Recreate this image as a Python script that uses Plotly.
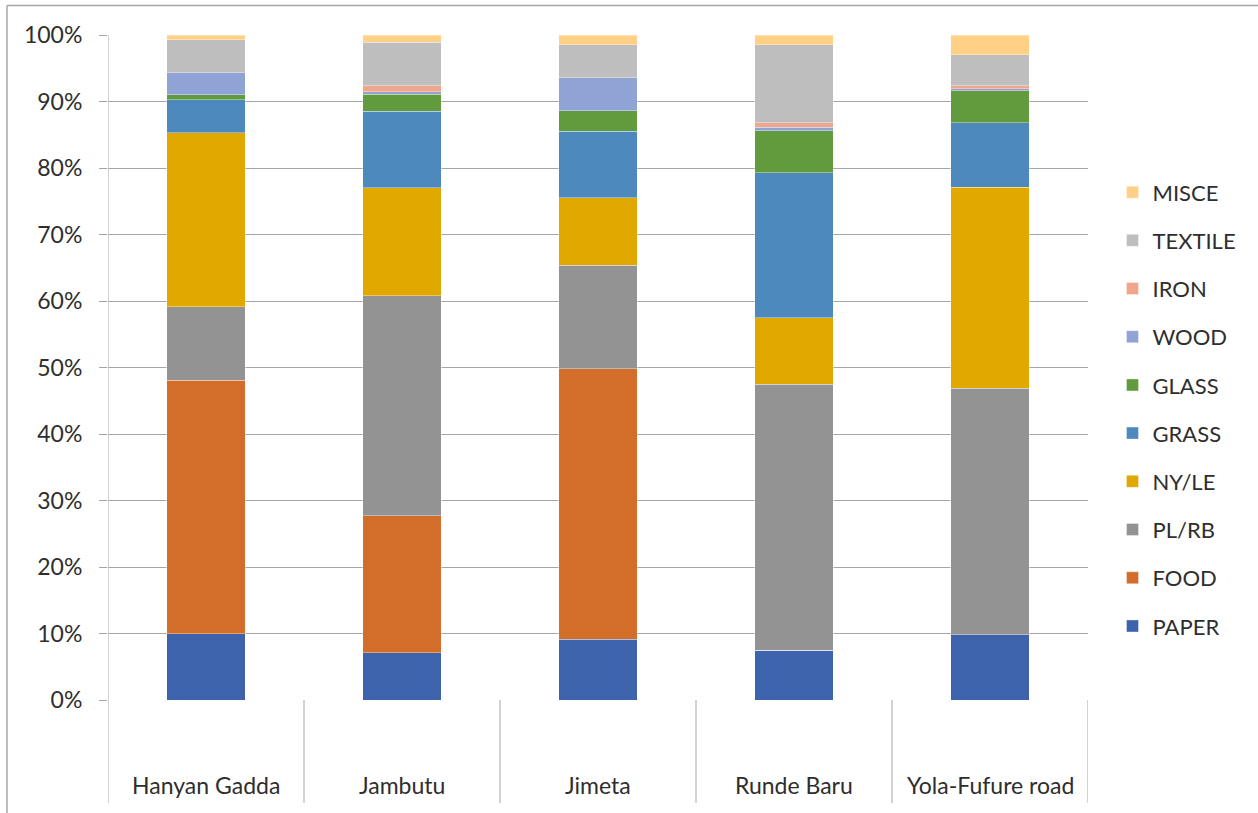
import plotly.graph_objects as go

categories = ["Hanyan Gadda", "Jambutu", "Jimeta", "Runde Baru", "Yola-Fufure road"]

PAPER = [10.0, 7.1, 9.1, 7.5, 9.8]
FOOD = [38.1, 20.6, 40.7, 0.0, 0.0]
PL_RB = [11.0, 33.1, 15.6, 40.0, 37.1]
NY_LE = [26.2, 16.2, 10.1, 10.0, 30.2]
GRASS = [5.0, 11.5, 10.0, 21.8, 9.7]
GLASS = [0.7, 2.6, 3.1, 6.3, 4.8]
WOOD = [3.3, 0.4, 5.0, 0.5, 0.3]
IRON = [0.0, 0.9, 0.0, 0.7, 0.5]
TEXTILE = [5.0, 6.5, 4.9, 11.7, 4.6]
MISCE = [0.7, 1.1, 1.5, 1.5, 3.0]

series_names = ["PAPER", "FOOD", "PL/RB", "NY/LE", "GRASS", "GLASS", "WOOD", "IRON", "TEXTILE", "MISCE"]
series_values = [PAPER, FOOD, PL_RB, NY_LE, GRASS, GLASS, WOOD, IRON, TEXTILE, MISCE]
colors = ["#3C63AC", "#D36D2A", "#939393", "#E1A800", "#4E89BD",
          "#629A3E", "#8FA3D4", "#F0A68A", "#BEBEBE", "#FFD085"]

y_ticks = list(range(0, 101, 10))
y_tick_labels = [f"{v}%" for v in y_ticks]

FONT = "Lato"
TXT = "#2e2e2e"
GRID = "#a6a6a6"

fig = go.Figure()
idx = list(range(len(categories)))
for i, (name, vals, col) in enumerate(zip(series_names, series_values, colors)):
    fig.add_trace(go.Bar(
        x=idx, y=vals, name=name, legendgroup=name, legendrank=100 - i,
        marker=dict(color=col, line=dict(color="rgba(255,255,255,0.6)", width=0.6)),
        width=0.4,
    ))

shapes = []
for k in range(len(categories) + 1):
    shapes.append(dict(type="line", xref="x", yref="paper",
                       x0=-0.5 + k, x1=-0.5 + k, y0=-0.155, y1=(1.0 if k == 0 else 0),
                       line=dict(color=GRID, width=1)))
shapes.append(dict(type="line", xref="paper", yref="paper", x0=-0.1031, x1=1.2,
                   y0=1.0444, y1=1.0444, line=dict(color=GRID, width=1.5)))
shapes.append(dict(type="line", xref="paper", yref="paper", x0=-0.1031, x1=-0.1031,
                   y0=-0.2, y1=1.0444, line=dict(color=GRID, width=1.5)))

annotations = []
for i, c in enumerate(categories):
    annotations.append(dict(x=i, y=-0.128, xref="x", yref="paper", text=c,
                            showarrow=False, xanchor="center", yanchor="middle",
                            font=dict(family=FONT, size=23, color=TXT)))

fig.update_layout(
    width=1258, height=813, autosize=False,
    margin=dict(l=108, r=170, t=35, b=113),
    barmode="stack",
    plot_bgcolor="white", paper_bgcolor="white",
    font=dict(family=FONT, size=22, color=TXT),
    shapes=shapes, annotations=annotations,
    legend=dict(traceorder="grouped", tracegroupgap=16.6,
                x=1.025, xanchor="left", y=0.795, yanchor="top",
                font=dict(family=FONT, size=22, color=TXT),
                itemwidth=30, bgcolor="rgba(0,0,0,0)"),
    xaxis=dict(range=[-0.5, 4.5], showticklabels=False, showgrid=False,
               zeroline=False, showline=False, ticks="", fixedrange=True),
    yaxis=dict(range=[0, 100], tickvals=y_ticks, ticktext=y_tick_labels,
               showgrid=True, gridcolor=GRID, gridwidth=1,
               zeroline=False, showline=False, ticks="outside", ticklen=8,
               tickcolor=GRID, ticklabelstandoff=12,
               tickfont=dict(family=FONT, size=23, color=TXT)),
)

fig.write_html("out.html")
